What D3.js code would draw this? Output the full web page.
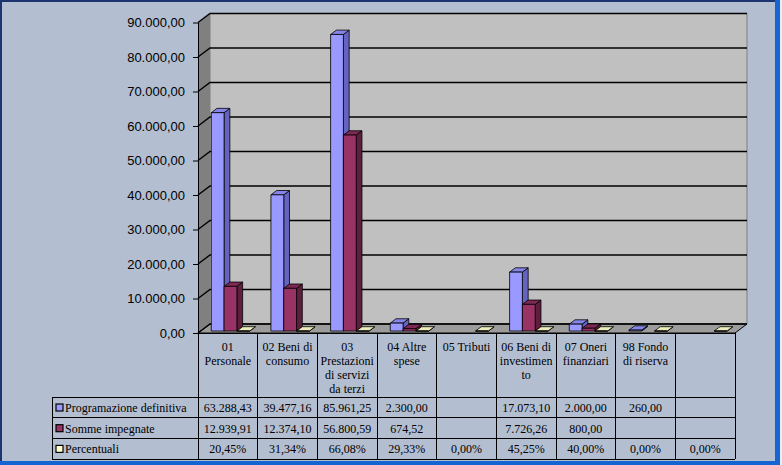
<!DOCTYPE html>
<html>
<head>
<meta charset="utf-8">
<script src="https://cdn.jsdelivr.net/npm/d3@7/dist/d3.min.js"></script>
<style>
  html, body { margin: 0; padding: 0; background: #b3bed1; }
  svg { display: block; }
  .tbl text { font-family: 'Liberation Serif', 'Times New Roman', serif; font-size: 12px; }
</style>
</head>
<body>
<svg id="chart"></svg>
<script>
// dati
const categories = ["01\nPersonale", "02 Beni di\nconsumo", "03\nPrestazioni\ndi servizi\nda terzi", "04 Altre\nspese",
  "05 Tributi", "06 Beni di\ninvestimen\nto", "07 Oneri\nfinanziari", "98 Fondo\ndi riserva", ""];
const seriesNames = ["Programazione definitiva", "Somme impegnate", "Percentuali"];
const programazione = [63288.43, 39477.16, 85961.25, 2300.00, null, 17073.10, 2000.00, 260.00, null];
const somme = [12939.91, 12374.10, 56800.59, 674.52, null, 7726.26, 800.00, null, null];
const percentuali = [0.2045, 0.3134, 0.6608, 0.2933, 0, 0.4525, 0.40, 0, 0];
const yTicks = [0, 10000, 20000, 30000, 40000, 50000, 60000, 70000, 80000, 90000];

// costanti di layout
const W = 782, H = 465;
const X_LEFT = 198, X_RIGHT = 735;
const Y_BASE = 333, Y_TOP = 22.5;
const DX = 12, DY = 9;          // profondità 3D
const Z0 = 0.22, Z1 = 0.70;     // profondità delle barre
const HEADER_BOTTOM = 397, ROW_H = 20.7;
const LEGEND_LEFT = 52;

const colors = [
  { front: '#9999ff', top: '#8585e8', side: '#6464c0' },
  { front: '#993366', top: '#7d2953', side: '#5e1f3f' },
  { front: '#ffffcc', top: '#ebebbb', side: '#c0c099' }
];

const loc = d3.formatLocale({ decimal: ',', thousands: '.', grouping: [3], currency: ['€', ''] });
const fmtNum = loc.format(',.2f');
const fmtPct = loc.format('.2%');

const svg = d3.select('#chart').attr('width', W).attr('height', H);

// cornice
svg.append('rect').attr('x', 0).attr('y', 0).attr('width', W).attr('height', H).attr('fill', '#b3bed1');
svg.append('rect').attr('x', 775).attr('y', 0).attr('width', 5).attr('height', H).attr('fill', '#1464d2');
svg.append('rect').attr('x', 780).attr('y', 0).attr('width', 2).attr('height', H).attr('fill', '#e8eef8');
svg.append('rect').attr('x', 0).attr('y', 461).attr('width', 780).attr('height', 4).attr('fill', '#1464d2');
svg.append('rect').attr('x', 0).attr('y', 0).attr('width', 775).attr('height', 2).attr('fill', '#1c3470');
svg.append('rect').attr('x', 0).attr('y', 0).attr('width', 2).attr('height', 461).attr('fill', '#1c3470');

// scale
const x = d3.scaleBand().domain(categories).range([X_LEFT, X_RIGHT]);
const xs = d3.scaleBand().domain([0, 1, 2]).range([0, x.bandwidth()]).paddingOuter(0.83);
const y = d3.scaleLinear().domain([0, 90000]).range([Y_BASE, Y_TOP]);

const P = (px, py, z) => [px + z * DX, py - z * DY];
const pts = (arr) => arr.map(p => p.join(',')).join(' ');

// pareti
svg.append('polygon') // parete laterale
  .attr('points', pts([P(X_LEFT, Y_TOP, 0), P(X_LEFT, Y_TOP, 1), P(X_LEFT, Y_BASE, 1), P(X_LEFT, Y_BASE, 0)]))
  .attr('fill', '#808080');
svg.append('polygon') // parete di fondo
  .attr('points', pts([P(X_LEFT, Y_TOP, 1), P(X_RIGHT, Y_TOP, 1), P(X_RIGHT, Y_BASE, 1), P(X_LEFT, Y_BASE, 1)]))
  .attr('fill', '#c0c0c0').attr('stroke', '#808080').attr('stroke-width', 1);
svg.append('polygon') // pavimento
  .attr('points', pts([P(X_LEFT, Y_BASE, 0), P(X_LEFT, Y_BASE, 1), P(X_RIGHT, Y_BASE, 1), P(X_RIGHT, Y_BASE, 0)]))
  .attr('fill', '#9c9c9c').attr('stroke', '#000').attr('stroke-width', 1);

// griglia
svg.append('g').selectAll('path').data(yTicks).enter().append('path')
  .attr('d', d => {
    const a = P(X_LEFT, y(d), 0), b = P(X_LEFT, y(d), 1), c = P(X_RIGHT, y(d), 1);
    return 'M' + a + 'L' + b + 'L' + c;
  })
  .attr('fill', 'none').attr('stroke', '#000').attr('stroke-width', 1.4);

// asse y
const yAxis = svg.append('g').attr('transform', `translate(${X_LEFT},0)`)
  .call(d3.axisLeft(y).tickValues(yTicks).tickSize(5).tickSizeOuter(0).tickPadding(8).tickFormat(fmtNum));
yAxis.select('.domain').attr('stroke', '#000');
yAxis.selectAll('.tick line').attr('stroke', '#000');
yAxis.selectAll('text').attr('font-family', '"Liberation Sans", Arial, sans-serif')
  .attr('font-size', '13px').attr('fill', '#000');

// barre 3D
const seriesValues = [programazione, somme, percentuali];
const bars = [];
categories.forEach((c, i) => {
  seriesValues.forEach((vals, s) => {
    if (vals[i] == null) return;
    bars.push({ cat: c, s: s, v: vals[i] });
  });
});

const barG = svg.append('g').selectAll('g').data(bars).enter().append('g');
barG.each(function (d) {
  const g = d3.select(this);
  const x0 = x(d.cat) + xs(d.s), w = xs.bandwidth();
  const yt = y(d.v), yb = y(0);
  const col = colors[d.s];
  g.append('polygon') // lato
    .attr('points', pts([P(x0 + w, yt, Z0), P(x0 + w, yt, Z1), P(x0 + w, yb, Z1), P(x0 + w, yb, Z0)]))
    .attr('fill', col.side).attr('stroke', '#000').attr('stroke-width', 0.8).attr('stroke-linejoin', 'round');
  g.append('polygon') // sopra
    .attr('points', pts([P(x0, yt, Z0), P(x0 + w, yt, Z0), P(x0 + w, yt, Z1), P(x0, yt, Z1)]))
    .attr('fill', col.top).attr('stroke', '#000').attr('stroke-width', 0.8).attr('stroke-linejoin', 'round');
  g.append('polygon') // fronte
    .attr('points', pts([P(x0, yt, Z0), P(x0 + w, yt, Z0), P(x0 + w, yb, Z0), P(x0, yb, Z0)]))
    .attr('fill', col.front).attr('stroke', '#000').attr('stroke-width', 0.8).attr('stroke-linejoin', 'round');
});

// tabella dati
const table = svg.append('g').attr('class', 'tbl').attr('fill', '#000');
const rowsTop = d3.range(4).map(r => HEADER_BOTTOM + r * ROW_H);
const lineAttr = sel => sel.attr('stroke', '#000').attr('stroke-width', 1).attr('shape-rendering', 'crispEdges');

// linee orizzontali
table.append('line').attr('x1', X_LEFT).attr('x2', X_RIGHT).attr('y1', Y_BASE).attr('y2', Y_BASE).call(lineAttr);
table.selectAll('line.h').data(rowsTop).enter().append('line').attr('class', 'h')
  .attr('x1', LEGEND_LEFT).attr('x2', X_RIGHT).attr('y1', d => d).attr('y2', d => d).call(lineAttr);
// linee verticali
table.selectAll('line.v').data(categories.concat(['_end'])).enter().append('line').attr('class', 'v')
  .attr('x1', (d, i) => X_LEFT + i * x.step()).attr('x2', (d, i) => X_LEFT + i * x.step())
  .attr('y1', Y_BASE).attr('y2', rowsTop[3]).call(lineAttr);
table.append('line').attr('x1', LEGEND_LEFT).attr('x2', LEGEND_LEFT)
  .attr('y1', rowsTop[0]).attr('y2', rowsTop[3]).call(lineAttr);

// intestazioni categorie
table.selectAll('text.cat').data(categories).enter().append('text').attr('class', 'cat')
  .attr('text-anchor', 'middle')
  .each(function (d) {
    const t = d3.select(this);
    d.split('\n').forEach((ln, k) => {
      t.append('tspan').attr('x', x(d) + x.bandwidth() / 2).attr('y', 351 + k * 14).text(ln);
    });
  });

// legenda
seriesNames.forEach((name, s) => {
  const top = rowsTop[s];
  table.append('rect').attr('x', 56).attr('y', top + 7).attr('width', 7).attr('height', 7)
    .attr('fill', colors[s].front).attr('stroke', '#000').attr('stroke-width', 1.2);
  table.append('text').attr('x', 65).attr('y', top + 15).text(name);
  seriesValues[s].forEach((v, i) => {
    if (v == null) return;
    table.append('text').attr('text-anchor', 'middle')
      .attr('x', x(categories[i]) + x.bandwidth() / 2).attr('y', top + 15)
      .text(s === 2 ? fmtPct(v) : fmtNum(v));
  });
});
</script>
</body>
</html>
